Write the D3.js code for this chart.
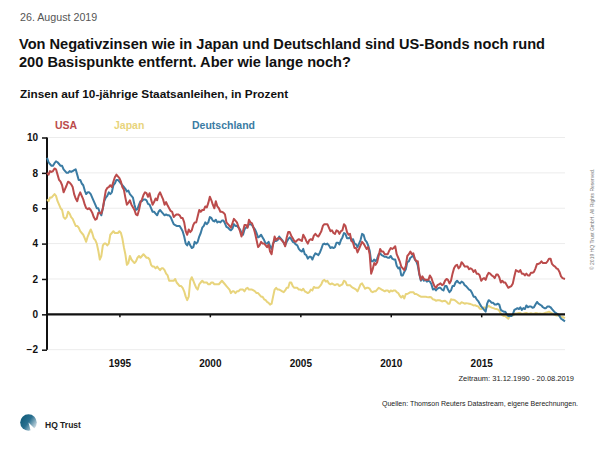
<!DOCTYPE html>
<html><head><meta charset="utf-8">
<script src="https://cdn.jsdelivr.net/npm/d3@7"></script>
<style>
body{margin:0;background:#fff}
svg{display:block}
text{font-family:"Liberation Sans",Arial,Helvetica,sans-serif}
</style>
</head><body>
<svg id="c" width="600" height="450"></svg>
<script>
// ---------- DATA (monthly, Jan 1991 ... Aug 2019) ----------
const firstMonth = "1991-01-01";
const lastDate = "2019-08-20";
const usa = [
8.0,7.9,8.1,8.05,8.1,8.25,8.2,7.9,7.6,7.5,7.3,6.9,
7.1,7.3,7.5,7.45,7.35,7.2,6.8,6.55,6.4,6.7,6.9,6.7,
6.5,6.2,6.0,5.95,6.0,5.9,5.75,5.5,5.35,5.4,5.75,5.75,
5.7,6.0,6.5,7.0,7.15,7.2,7.3,7.2,7.5,7.75,7.9,7.8,
7.7,7.5,7.2,7.05,6.6,6.2,6.3,6.45,6.2,6.05,5.9,5.65,
5.6,5.9,6.3,6.5,6.75,6.9,6.85,6.65,6.85,6.5,6.2,6.35,
6.55,6.45,6.75,6.9,6.7,6.5,6.2,6.35,6.15,6.0,5.85,5.8,
5.5,5.6,5.65,5.65,5.6,5.45,5.45,5.2,4.7,4.5,4.8,4.65,
4.75,5.05,5.2,5.2,5.55,5.9,5.8,5.9,5.9,6.1,6.05,6.3,
6.65,6.45,6.2,6.0,6.4,6.1,6.0,5.8,5.8,5.75,5.65,5.2,
5.1,5.0,4.9,5.15,5.4,5.3,5.2,4.95,4.7,4.4,4.7,5.05,
5.05,4.9,5.35,5.2,5.15,4.9,4.6,4.2,3.8,3.9,4.1,4.0,
4.0,3.9,3.8,3.95,3.55,3.4,3.95,4.4,4.2,4.3,4.3,4.25,
4.15,4.05,3.85,4.35,4.65,4.65,4.45,4.3,4.15,4.1,4.2,4.25,
4.2,4.15,4.5,4.35,4.15,4.0,4.2,4.25,4.2,4.45,4.55,4.45,
4.4,4.55,4.7,5.0,5.1,5.1,5.1,4.9,4.7,4.75,4.6,4.55,
4.75,4.7,4.55,4.7,4.75,5.1,5.0,4.65,4.5,4.55,4.15,4.05,
3.75,3.75,3.5,3.7,3.9,4.1,4.0,3.85,3.7,3.8,3.4,2.3,
2.55,2.9,2.8,2.95,3.3,3.7,3.55,3.55,3.4,3.4,3.4,3.6,
3.75,3.7,3.75,3.85,3.4,3.2,3.0,2.7,2.6,2.5,2.75,3.3,
3.4,3.55,3.4,3.45,3.15,3.0,3.0,2.3,1.95,2.15,2.0,1.95,
1.95,1.95,2.2,2.05,1.8,1.6,1.5,1.65,1.7,1.75,1.65,1.7,
1.9,2.0,1.95,1.75,1.9,2.3,2.6,2.75,2.8,2.6,2.7,2.95,
2.85,2.7,2.7,2.7,2.55,2.6,2.55,2.4,2.5,2.3,2.3,2.2,
1.9,2.0,2.05,1.95,2.2,2.35,2.3,2.2,2.15,2.05,2.25,2.25,
2.1,1.8,1.9,1.8,1.8,1.65,1.5,1.55,1.6,1.75,2.15,2.5,
2.45,2.4,2.5,2.3,2.3,2.2,2.3,2.2,2.2,2.35,2.35,2.4,
2.6,2.85,2.85,2.9,3.0,2.9,2.9,2.9,3.0,3.15,3.15,2.85,
2.75,2.7,2.6,2.55,2.4,2.15,2.05,2.0
];
const japan = [
6.5,6.4,6.6,6.6,6.7,6.8,6.7,6.4,6.2,6.0,5.9,5.5,
5.4,5.5,5.8,5.7,5.5,5.4,5.2,5.0,5.0,4.9,4.7,4.6,
4.5,4.3,4.1,4.4,4.6,4.8,4.6,4.3,4.2,4.0,3.6,3.1,
3.3,3.9,4.0,4.0,3.9,4.0,4.5,4.6,4.7,4.6,4.6,4.6,
4.7,4.6,4.3,3.8,3.4,2.8,2.9,3.3,3.1,3.0,2.9,3.0,
3.2,3.3,3.2,3.3,3.4,3.3,3.2,3.2,3.1,2.8,2.7,2.7,
2.6,2.7,2.6,2.5,2.6,2.6,2.5,2.3,2.2,1.9,1.9,1.9,
1.9,2.0,1.8,1.7,1.6,1.6,1.5,1.3,1.0,0.8,1.0,1.9,
2.1,1.9,1.7,1.5,1.4,1.7,1.8,1.9,1.8,1.8,1.8,1.7,
1.7,1.8,1.8,1.7,1.7,1.7,1.7,1.8,1.9,1.8,1.7,1.6,
1.5,1.4,1.2,1.3,1.3,1.2,1.3,1.3,1.4,1.4,1.4,1.3,
1.45,1.5,1.4,1.4,1.4,1.35,1.3,1.2,1.2,1.1,1.0,1.0,
0.85,0.8,0.7,0.65,0.55,0.6,1.0,1.4,1.5,1.4,1.4,1.35,
1.3,1.25,1.35,1.5,1.5,1.8,1.8,1.6,1.5,1.5,1.5,1.4,
1.4,1.35,1.45,1.3,1.25,1.2,1.25,1.4,1.35,1.55,1.5,1.5,
1.5,1.6,1.7,1.9,1.95,1.85,1.9,1.75,1.7,1.75,1.7,1.65,
1.7,1.7,1.6,1.65,1.7,1.9,1.85,1.65,1.65,1.65,1.55,1.5,
1.45,1.4,1.3,1.5,1.7,1.75,1.6,1.45,1.5,1.5,1.45,1.3,
1.25,1.3,1.3,1.4,1.5,1.45,1.4,1.35,1.3,1.35,1.35,1.25,
1.35,1.3,1.35,1.35,1.25,1.2,1.05,0.95,1.05,0.9,1.15,1.15,
1.2,1.25,1.25,1.25,1.15,1.15,1.1,1.05,1.0,1.0,1.0,1.0,
0.98,0.97,0.98,0.95,0.85,0.83,0.77,0.8,0.8,0.78,0.73,0.75,
0.77,0.7,0.6,0.6,0.85,0.83,0.82,0.77,0.7,0.62,0.6,0.68,
0.65,0.6,0.63,0.62,0.6,0.58,0.55,0.5,0.52,0.47,0.45,0.33,
0.3,0.35,0.4,0.35,0.42,0.48,0.42,0.38,0.35,0.32,0.3,0.28,
0.2,0.05,-0.05,-0.1,-0.1,-0.18,-0.25,-0.08,-0.07,-0.06,0.0,0.05,
0.06,0.08,0.07,0.02,0.04,0.06,0.08,0.04,0.03,0.06,0.04,0.04,
0.07,0.06,0.04,0.05,0.04,0.03,0.06,0.1,0.12,0.15,0.1,0.05,
0.0,-0.03,-0.07,-0.05,-0.08,-0.14,-0.15,-0.22
];
const germany = [
8.85,8.6,8.5,8.4,8.4,8.55,8.65,8.6,8.5,8.4,8.4,8.2,
8.1,8.0,8.0,8.1,8.05,8.1,8.15,8.2,7.9,7.6,7.6,7.4,
7.3,7.0,6.8,6.9,6.9,6.8,6.6,6.4,6.2,6.0,6.0,5.75,
5.6,6.0,6.4,6.6,6.7,6.9,6.8,6.9,7.3,7.4,7.6,7.6,
7.5,7.4,7.3,7.2,7.1,6.95,7.0,6.8,6.7,6.6,6.2,5.9,
5.95,6.2,6.4,6.4,6.5,6.5,6.45,6.25,6.2,6.0,5.8,5.8,
5.7,5.6,5.8,5.9,5.8,5.7,5.6,5.65,5.6,5.6,5.5,5.3,
5.1,5.05,5.0,5.0,5.0,4.85,4.7,4.4,4.0,3.9,4.1,3.9,
3.75,3.8,4.1,4.0,4.1,4.4,4.6,4.9,5.0,5.2,5.1,5.2,
5.5,5.45,5.3,5.25,5.35,5.2,5.25,5.2,5.3,5.3,5.15,4.95,
4.9,4.8,4.75,4.85,5.1,5.0,5.0,4.9,4.8,4.6,4.5,4.8,
4.9,4.95,5.1,5.1,5.05,4.9,4.8,4.6,4.35,4.4,4.5,4.35,
4.2,4.0,4.0,4.1,3.85,3.7,4.0,4.15,4.15,4.2,4.4,4.3,
4.2,4.05,3.9,4.1,4.25,4.35,4.25,4.1,4.05,3.95,3.9,3.7,
3.6,3.55,3.7,3.4,3.35,3.15,3.25,3.25,3.1,3.3,3.45,3.4,
3.35,3.5,3.7,3.95,4.0,3.95,4.0,3.9,3.75,3.8,3.75,3.8,
4.05,4.05,3.95,4.2,4.35,4.6,4.55,4.3,4.3,4.35,4.15,4.25,
4.0,3.95,3.8,4.0,4.2,4.55,4.5,4.2,4.1,3.9,3.6,3.0,
3.0,3.1,3.0,3.15,3.4,3.45,3.35,3.3,3.25,3.25,3.2,3.2,
3.3,3.15,3.1,3.1,2.75,2.6,2.65,2.2,2.2,2.4,2.55,2.95,
3.0,3.2,3.25,3.35,3.1,3.0,2.75,2.25,1.9,2.05,1.9,1.95,
1.85,1.9,1.85,1.7,1.4,1.45,1.35,1.45,1.5,1.5,1.4,1.35,
1.6,1.6,1.4,1.25,1.35,1.6,1.6,1.8,1.9,1.8,1.75,1.85,
1.8,1.65,1.6,1.5,1.4,1.35,1.2,1.0,1.0,0.85,0.75,0.6,
0.45,0.35,0.25,0.15,0.6,0.8,0.75,0.65,0.65,0.55,0.55,0.6,
0.55,0.25,0.2,0.15,0.15,0.0,-0.1,-0.1,-0.1,0.0,0.25,0.3,
0.35,0.3,0.4,0.25,0.35,0.3,0.5,0.4,0.45,0.45,0.37,0.4,
0.55,0.7,0.6,0.55,0.5,0.4,0.35,0.35,0.45,0.45,0.4,0.3,
0.2,0.1,0.05,0.0,-0.1,-0.25,-0.3,-0.4
];
const seriesNames = ["USA","Japan","Deutschland"];
const seriesColors = ["#bb4b4b","#e8d47c","#3a7ba3"];
const yTicks = [-2,0,2,4,6,8,10];
const xTickYears = [1995,2000,2005,2010,2015];

// ---------- CHART ----------
const svg = d3.select("#c");
const parse = d3.timeParse("%Y-%m-%d");
const monthDates = d3.timeMonth.range(parse(firstMonth), parse("2019-08-01"));
const dates = monthDates.concat([parse(lastDate)]);
const x = d3.scaleTime().domain([parse("1990-12-31"), parse(lastDate)]).range([47, 565]);
const y = d3.scaleLinear().domain([-2, 10]).range([349.7, 137.5]);

// header
svg.append("text").attr("x",20).attr("y",21).attr("font-size",10.7).attr("fill","#555").text("26. August 2019");
svg.append("text").attr("x",19).attr("y",49).attr("font-size",14.6).attr("font-weight","bold").attr("fill","#111")
  .text("Von Negativzinsen wie in Japan und Deutschland sind US-Bonds noch rund");
svg.append("text").attr("x",19).attr("y",67).attr("font-size",14.6).attr("font-weight","bold").attr("fill","#111")
  .text("200 Basispunkte entfernt. Aber wie lange noch?");
svg.append("text").attr("x",20).attr("y",98).attr("font-size",11.8).attr("font-weight","bold").attr("fill","#111")
  .text("Zinsen auf 10-jährige Staatsanleihen, in Prozent");

// gridlines
svg.append("g").selectAll("line").data(yTicks).join("line")
  .attr("x1",47).attr("x2",565).attr("y1",d=>y(d)).attr("y2",d=>y(d))
  .attr("stroke","#ececec").attr("stroke-width",1);

// y axis
const yAxis = d3.axisLeft(y).tickValues(yTicks).tickSize(5).tickPadding(4).tickFormat(d3.format("d"));
const gy = svg.append("g").attr("transform","translate(47,0)").call(yAxis);
gy.select(".domain").attr("stroke","#111").attr("stroke-width",2).attr("d","M0,"+y(10)+"V"+y(-2));
gy.selectAll(".tick line").attr("stroke","#111").attr("stroke-width",1.5);
gy.selectAll(".tick text").attr("font-size",10).attr("font-weight","bold").attr("fill","#111")
  .attr("font-family","Liberation Sans, Arial, sans-serif");

// x axis at zero
const xAxis = d3.axisBottom(x).tickValues(xTickYears.map(v=>new Date(v,0,1))).tickSize(3).tickFormat(d3.timeFormat("%Y"));
const gx = svg.append("g").attr("transform","translate(0,"+y(0)+")").call(xAxis);
gx.select(".domain").remove();
gx.selectAll(".tick line").attr("stroke","#111").attr("stroke-width",1.5);
gx.selectAll(".tick text").attr("font-size",10).attr("font-weight","bold").attr("fill","#111")
  .attr("font-family","Liberation Sans, Arial, sans-serif")
  .attr("y", y(-2) - y(0) + 10);

// lines (Japan, Deutschland, then USA on top)
const line = d3.line().x((d,i)=>x(dates[i])).y(d=>y(d));
const order = [1,2,0];
const seriesValues = [usa, japan, germany];
order.forEach(k=>{
  svg.append("path").datum(seriesValues[k]).attr("d",line)
    .attr("fill","none").attr("stroke",seriesColors[k]).attr("stroke-width",2)
    .attr("stroke-linejoin","round");
});

// zero line
svg.append("line").attr("x1",47).attr("x2",565).attr("y1",y(0)).attr("y2",y(0))
  .attr("stroke","#111").attr("stroke-width",2.2);

// legend
const legendX = [55,114,192];
seriesNames.forEach((n,i)=>{
  svg.append("text").attr("x",legendX[i]).attr("y",128.5).attr("font-size",10.5).attr("font-weight","bold")
    .attr("fill",seriesColors[i]).text(n);
});

// footnotes
svg.append("text").attr("x",574).attr("y",380.5).attr("text-anchor","end").attr("font-size",7.5)
  .attr("font-family","Liberation Sans Narrow, Arial Narrow, sans-serif").attr("fill","#222")
  .text("Zeitraum: 31.12.1990 - 20.08.2019");
svg.append("text").attr("x",578).attr("y",405.5).attr("text-anchor","end").attr("font-size",7)
  .attr("font-family","Liberation Sans Narrow, Arial Narrow, sans-serif").attr("fill","#222")
  .text("Quellen: Thomson Reuters Datastream, eigene Berechnungen.");
svg.append("text").attr("transform","translate(594,270) rotate(-90)").attr("font-size",5).attr("fill","#777")
  .text("© 2019 HQ Trust GmbH. All Rights Reserved.");

// logo
const defs = svg.append("defs");
const grad = defs.append("linearGradient").attr("id","lg").attr("x1","0").attr("y1","0.2").attr("x2","1").attr("y2","0.9");
grad.append("stop").attr("offset","0").attr("stop-color","#0f5a78");
grad.append("stop").attr("offset","0.45").attr("stop-color","#2a7090");
grad.append("stop").attr("offset","1").attr("stop-color","#f2f4f6");
svg.append("circle").attr("cx",28.5).attr("cy",422.5).attr("r",8.3).attr("fill","url(#lg)");
svg.append("path").attr("d","M28.5,422.5 L38,432 L31,432 Z").attr("fill","#fff");
svg.append("text").attr("x",45).attr("y",427.5).attr("font-size",8.5).attr("font-weight","bold").attr("fill","#222").text("HQ Trust");
</script>
</body></html>
